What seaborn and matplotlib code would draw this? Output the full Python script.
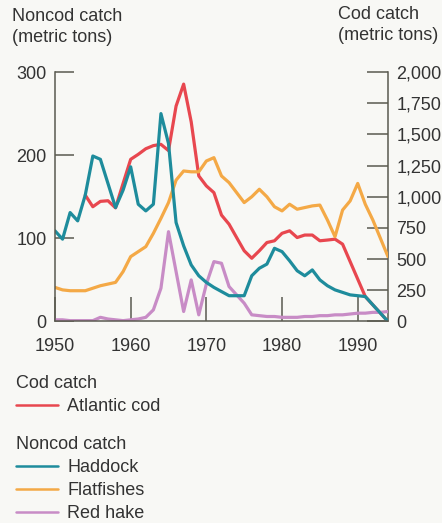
import matplotlib
matplotlib.use("Agg")
import pandas as pd
import seaborn as sns
import matplotlib.pyplot as plt
from matplotlib.lines import Line2D
from matplotlib.ticker import FuncFormatter

# catch data (noncod: left axis, cod: right axis)
years = list(range(1950, 1995))
haddock = [109, 99, 131, 121, 152, 199, 195, 166, 137, 158,
           186, 141, 133, 141, 250, 214, 119, 91, 68, 55,
           47, 41, 36, 31, 31, 31, 55, 64, 69, 88,
           84, 73, 61, 55, 62, 50, 43, 38, 35, 32,
           31, 30, 20, 10, 0]
flatfishes = [41, 38, 37, 37, 37, 40, 43, 45, 47, 60,
              78, 84, 90, 106, 124, 143, 170, 181, 180, 180,
              193, 197, 175, 167, 155, 143, 150, 159, 150, 138,
              133, 141, 135, 137, 139, 140, 122, 102, 134, 145,
              166, 141, 122, 100, 78]
red_hake = [2, 2, 1, 1, 1, 1, 5, 3, 2, 1,
            2, 3, 5, 14, 40, 108, 60, 12, 50, 8,
            45, 72, 70, 42, 32, 22, 8, 7, 6, 6,
            5, 5, 5, 6, 6, 7, 7, 8, 8, 9,
            10, 10, 11, 11, 12]

cod_years = list(range(1954, 1995))
atlantic_cod = [1013, 920, 963, 968, 911, 1107,
                1300, 1340, 1385, 1410, 1420, 1370, 1727, 1903, 1600, 1167,
                1087, 1033, 853, 780, 673, 567, 507, 567, 633, 647,
                707, 727, 673, 693, 693, 647, 653, 660, 620, 480,
                340, 200, 133, 67, 0]

left_ticks = [0, 100, 200, 300]
right_ticks = [0, 250, 500, 750, 1000, 1250, 1500, 1750, 2000]
x_ticks = [1950, 1960, 1970, 1980, 1990]

RED = "#e8474f"
TEAL = "#1e8c9c"
ORANGE = "#f4a946"
PURPLE = "#c88cc6"
TXT = "#333333"
AXC = "#5a5a50"

sns.set_style("white")
plt.rcParams['font.family'] = ['Liberation Sans', 'DejaVu Sans']
plt.rcParams['font.size'] = 13

noncod = pd.DataFrame({
    "year": years * 3,
    "catch": haddock + flatfishes + red_hake,
    "species": ["Haddock"] * len(years) + ["Flatfishes"] * len(years) + ["Red hake"] * len(years),
})

fig = plt.figure(figsize=(4.42, 5.23), dpi=100, facecolor="#f8f8f5")
ax = fig.add_axes([0.1244, 0.3853, 0.7534, 0.477])
ax2 = ax.twinx()
ax.set_zorder(2)
ax2.set_zorder(1)
ax.patch.set_visible(False)
ax2.set_facecolor("#fef9cc")

sns.lineplot(x=cod_years, y=atlantic_cod, color=RED, linewidth=2.3, ax=ax2)
sns.lineplot(data=noncod, x="year", y="catch", hue="species",
             palette={"Haddock": TEAL, "Flatfishes": ORANGE, "Red hake": PURPLE},
             hue_order=["Red hake", "Flatfishes", "Haddock"],
             linewidth=2.3, legend=False, ax=ax)

ax.set_xlim(1950, 1994)
ax.set_ylim(0, 300)
ax2.set_ylim(0, 2000)
ax.set_xticks(x_ticks)
ax.set_yticks(left_ticks)
ax2.set_yticks(right_ticks)
ax2.yaxis.set_major_formatter(FuncFormatter(lambda v, p: f"{v:,.0f}"))
ax.set_xlabel("")
ax.set_ylabel("")
ax2.set_ylabel("")

for a in (ax, ax2):
    for s in a.spines.values():
        s.set_color(AXC)
        s.set_linewidth(1.1)
    a.spines["top"].set_visible(False)
ax.spines["right"].set_visible(False)
ax2.spines["left"].set_visible(False)
ax2.spines["bottom"].set_visible(False)

ax.tick_params(axis="y", direction="in", length=13.5, width=1.1, color=AXC,
               pad=6, labelsize=13, labelcolor=TXT, left=True)
ax.tick_params(axis="x", direction="in", length=17, width=1.1, color=AXC,
               pad=12, labelsize=13, labelcolor=TXT, bottom=True)
ax2.tick_params(axis="y", direction="in", length=15, width=1.1, color=AXC,
                pad=6, labelsize=13, labelcolor=TXT, right=True)

fig.text(12 / 442, 1 - 8 / 523, "Noncod catch\n(metric tons)", ha="left", va="top",
         color=TXT, fontsize=13, linespacing=1.3)
fig.text(338 / 442, 1 - 6 / 523, "Cod catch\n(metric tons)", ha="left", va="top",
         color=TXT, fontsize=13, linespacing=1.3)

legend_kw = dict(loc="upper left", frameon=False, fontsize=13, title_fontsize=13,
                 handlelength=2.3, handletextpad=0.55, borderpad=0,
                 borderaxespad=0, labelspacing=0.34)
cod_handles = [Line2D([], [], color=RED, linewidth=1.8)]
leg1 = fig.legend(cod_handles, ["Atlantic cod"], title="Cod catch",
                  bbox_to_anchor=(16 / 442, 1 - 375 / 523), **legend_kw)
leg1._legend_box.align = "left"
noncod_handles = [Line2D([], [], color=c, linewidth=1.8) for c in (TEAL, ORANGE, PURPLE)]
leg2 = fig.legend(noncod_handles, ["Haddock", "Flatfishes", "Red hake"], title="Noncod catch",
                  bbox_to_anchor=(16 / 442, 1 - 436 / 523), **legend_kw)
leg2._legend_box.align = "left"
for lg in (leg1, leg2):
    lg.get_title().set_color(TXT)
    for t in lg.get_texts():
        t.set_color(TXT)

fig.savefig("out.png", dpi=100, facecolor=fig.get_facecolor())
